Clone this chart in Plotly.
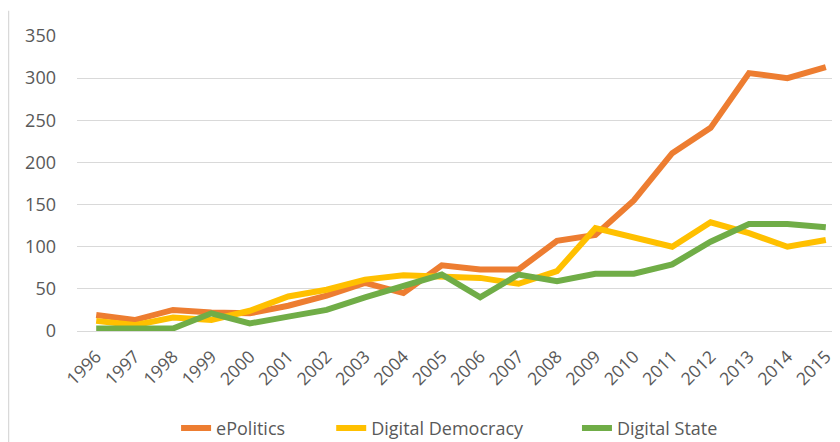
import plotly.graph_objects as go

years = list(range(1996, 2016))
epolitics = [19, 13, 25, 22, 21, 30, 42, 57, 45, 78, 73, 73, 107, 114, 155, 211, 241, 306, 300, 313]
digital_democracy = [12, 7, 16, 13, 24, 41, 49, 61, 66, 64, 63, 56, 71, 122, 111, 100, 129, 116, 100, 108]
digital_state = [3, 3, 3, 21, 9, 17, 25, 40, 54, 67, 40, 67, 59, 68, 68, 79, 106, 127, 127, 123]

series = [
    ("ePolitics", epolitics, "#ED7D31", "legend", 0.129),
    ("Digital Democracy", digital_democracy, "#FFC000", "legend2", 0.331),
    ("Digital State", digital_state, "#70AD47", "legend3", 0.651),
]

fig = go.Figure()
legends = {}
for name, vals, color, leg, lx in series:
    fig.add_trace(go.Scatter(
        x=years, y=vals, name=name, mode="lines", legend=leg,
        line=dict(color=color, width=6),
    ))
    legends[leg] = dict(
        orientation="h", x=lx, xanchor="left", y=-0.33, yanchor="middle",
        font=dict(family="Open Sans, sans-serif", size=18, color="#595959"),
        bgcolor="rgba(0,0,0,0)",
    )

# page body has an 8px margin, so margins are shifted to compensate
fig.update_layout(
    width=840, height=442,
    margin=dict(l=69, r=3, t=28, b=112),
    paper_bgcolor="white", plot_bgcolor="white",
    font=dict(family="Open Sans, sans-serif", color="#595959", size=17),
    showlegend=True,
    shapes=[dict(type="line", xref="paper", yref="paper",
                 x0=-0.0892, x1=-0.0892, y0=1.086, y1=-0.4,
                 line=dict(color="#D9D9D9", width=1.5))],
    **legends,
)
fig.update_xaxes(
    range=[1995.5, 2015.5], tickmode="array", tickvals=years,
    ticktext=[str(y) for y in years], tickangle=-45,
    showgrid=False, zeroline=False, showline=False, automargin=False,
    tickfont=dict(size=17.5, color="#595959"), ticklabelstandoff=11,
)
fig.update_yaxes(
    range=[0, 350], dtick=50, showgrid=True, gridcolor="#D9D9D9", gridwidth=1.3,
    zeroline=True, zerolinecolor="#D9D9D9", zerolinewidth=1.3, showline=False,
    automargin=False,
    tickfont=dict(size=18, color="#595959"), ticklabelstandoff=20,
)

fig.write_html("out.html")
